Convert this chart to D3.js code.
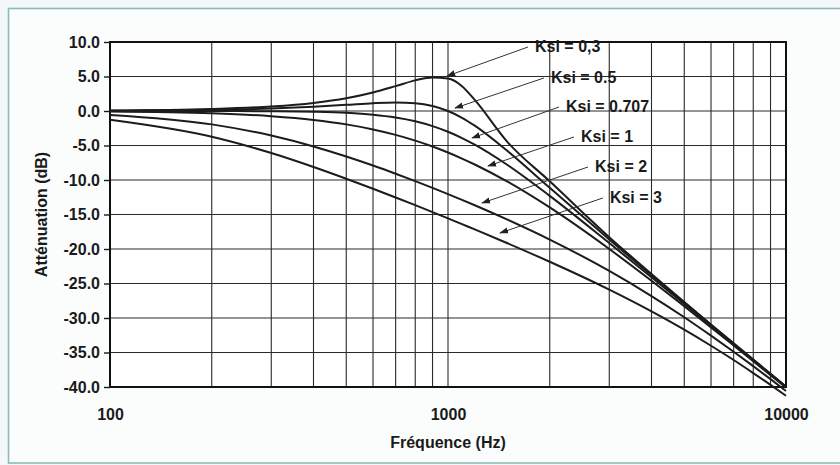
<!DOCTYPE html>
<html>
<head>
<meta charset="utf-8">
<script src="https://cdn.jsdelivr.net/npm/d3@7"></script>
<style>
  html, body { margin: 0; padding: 0; background: #f4f8f9; }
  svg { display: block; }
  text { font-family: "Liberation Sans", Arial, sans-serif; font-weight: bold; fill: #1a1a1a; }
</style>
</head>
<body>
<svg id="chart" width="840" height="465"></svg>
<script>
// ---- data ----
const frequencies = [100, 200, 300, 400, 500, 600, 700, 800, 900, 1000, 1100, 1200, 1500,
                     2000, 3000, 4000, 5000, 6000, 7000, 8000, 9000, 10000];
const ksi03   = [0.07, 0.29, 0.65, 1.17, 1.85, 2.68, 3.60, 4.44, 4.85, 4.70, 3.60, 1.60, -4.50, -10.19, -18.28, -23.63, -27.67, -30.93, -33.66, -36.01, -38.08, -39.93];
const ksi05   = [0.04, 0.17, 0.37, 0.63, 0.90, 1.14, 1.25, 1.14, 0.73, 0.00, -0.98, -2.13, -5.81, -11.14, -18.63, -23.82, -27.79, -31.01, -33.72, -36.06, -38.12, -39.96];
const ksi0707 = [0.00, -0.01, -0.04, -0.11, -0.26, -0.53, -0.94, -1.49, -2.19, -3.01, -3.92, -4.88, -7.83, -12.30, -19.14, -24.10, -27.97, -31.13, -33.81, -36.13, -38.17, -40.00];
const ksi1    = [-0.09, -0.34, -0.75, -1.29, -1.94, -2.67, -3.46, -4.30, -5.15, -6.02, -6.89, -7.75, -10.24, -13.98, -20.00, -24.61, -28.30, -31.36, -33.98, -36.26, -38.28, -40.09];
const ksi2    = [-0.57, -1.94, -3.56, -5.14, -6.59, -7.90, -9.09, -10.16, -11.14, -12.04, -12.88, -13.66, -15.75, -18.63, -23.18, -26.82, -29.89, -32.56, -34.90, -36.98, -38.86, -40.57];
const ksi3    = [-1.27, -3.73, -6.09, -8.11, -9.81, -11.26, -12.53, -13.65, -14.65, -15.56, -16.40, -17.16, -19.17, -21.85, -25.89, -29.04, -31.69, -34.02, -36.09, -37.98, -39.69, -41.27];
const seriesLabels = ["Ksi = 0,3", "Ksi = 0.5", "Ksi = 0.707", "Ksi = 1", "Ksi = 2", "Ksi = 3"];
const yTickValues = [10, 5, 0, -5, -10, -15, -20, -25, -30, -35, -40];
const xTickLabels = [100, 1000, 10000];
const xGridValues = [200, 300, 400, 500, 600, 700, 800, 900, 1000, 2000, 3000, 4000, 5000, 6000, 7000, 8000, 9000];
// annotation anchors in data units: arrow tip [f, dB], label [f, dB]
const annotTip   = [[994, 5.07], [1049, 0.43], [1178, -3.91], [1313, -7.97], [1261, -13.33], [1425, -17.68]];
const annotLabel = [[1809, 9.42], [2017, 4.93], [2234, 0.72], [2475, -3.62], [2723, -7.97], [3013, -12.46]];
const xTitle = "Fréquence (Hz)";
const yTitle = "Atténuation (dB)";

// ---- layout ----
const svg = d3.select("#chart");
const plot = { left: 110, right: 786, top: 42, bottom: 387 };

svg.append("rect").attr("x", 8.5).attr("y", 8.5).attr("width", 840).attr("height", 454.5)
  .attr("fill", "#fbfdfd").attr("stroke", "#8cbcb6").attr("stroke-width", 1.6);

const x = d3.scaleLog().domain([100, 10000]).range([plot.left, plot.right]);
const y = d3.scaleLinear().domain([-40, 10]).range([plot.bottom, plot.top]);

svg.append("rect").attr("x", plot.left).attr("y", plot.top)
  .attr("width", plot.right - plot.left).attr("height", plot.bottom - plot.top)
  .attr("fill", "#ffffff");

// grid
const g = svg.append("g");
g.selectAll("line.h").data(yTickValues).join("line")
  .attr("x1", plot.left).attr("x2", plot.right)
  .attr("y1", d => y(d)).attr("y2", d => y(d))
  .attr("stroke", "#2a2a2a").attr("stroke-width", 1.1);
g.selectAll("line.v").data(xGridValues).join("line")
  .attr("y1", plot.top).attr("y2", plot.bottom)
  .attr("x1", d => x(d)).attr("x2", d => x(d))
  .attr("stroke", "#2a2a2a").attr("stroke-width", 1.1);

// y axis
const fmt = d => d3.format(".1f")(d).replace("\u2212", "-");
const yAxis = d3.axisLeft(y).tickValues(yTickValues).tickFormat(fmt).tickSize(6).tickPadding(4);
const ya = svg.append("g").attr("transform", `translate(${plot.left},0)`).call(yAxis);
ya.select(".domain").remove();
ya.selectAll("line").attr("stroke", "#1a1a1a").attr("stroke-width", 1.4);
ya.selectAll("text").attr("font-size", 16).attr("font-family", "Liberation Sans, Arial, sans-serif")
  .attr("font-weight", "bold").attr("fill", "#1a1a1a");

// x axis labels
const xAxis = d3.axisBottom(x).tickValues(xTickLabels).tickFormat(d3.format("d")).tickSize(0).tickPadding(22);
const xa = svg.append("g").attr("transform", `translate(0,${plot.bottom})`).call(xAxis);
xa.select(".domain").remove();
xa.selectAll("text").attr("font-size", 16).attr("font-family", "Liberation Sans, Arial, sans-serif")
  .attr("font-weight", "bold").attr("fill", "#1a1a1a");

// plot border
svg.append("rect").attr("x", plot.left).attr("y", plot.top)
  .attr("width", plot.right - plot.left).attr("height", plot.bottom - plot.top)
  .attr("fill", "none").attr("stroke", "#111").attr("stroke-width", 2);

// curves
const allSeries = [ksi03, ksi05, ksi0707, ksi1, ksi2, ksi3];
const line = d3.line().x((d, i) => x(frequencies[i])).y(d => y(d)).curve(d3.curveMonotoneX);
svg.append("g").selectAll("path").data(allSeries).join("path")
  .attr("d", d => line(d))
  .attr("fill", "none").attr("stroke", "#1c1c1c").attr("stroke-width", 2);

// annotations
svg.append("defs").append("marker").attr("id", "arr")
  .attr("viewBox", "0 0 10 10").attr("refX", 9).attr("refY", 5)
  .attr("markerWidth", 9).attr("markerHeight", 9).attr("orient", "auto")
  .attr("markerUnits", "userSpaceOnUse")
  .append("path").attr("d", "M0,1.5 L10,5 L0,8.5 Z").attr("fill", "#222");

const ann = svg.append("g");
seriesLabels.forEach((lab, i) => {
  const tx = x(annotLabel[i][0]), ty = y(annotLabel[i][1]);
  const px = x(annotTip[i][0]), py = y(annotTip[i][1]);
  ann.append("line").attr("x1", tx - 7).attr("y1", ty + 1).attr("x2", px).attr("y2", py)
    .attr("stroke", "#333").attr("stroke-width", 1).attr("marker-end", "url(#arr)");
  ann.append("text").attr("x", tx).attr("y", ty).attr("dy", "0.36em")
    .attr("font-size", 16).text(lab);
});

// titles
svg.append("text").attr("x", (plot.left + plot.right) / 2).attr("y", 448)
  .attr("text-anchor", "middle").attr("font-size", 16).text(xTitle);
svg.append("text").attr("transform", `translate(47,${(plot.top + plot.bottom) / 2}) rotate(-90)`)
  .attr("text-anchor", "middle").attr("font-size", 16).text(yTitle);
</script>
</body>
</html>
